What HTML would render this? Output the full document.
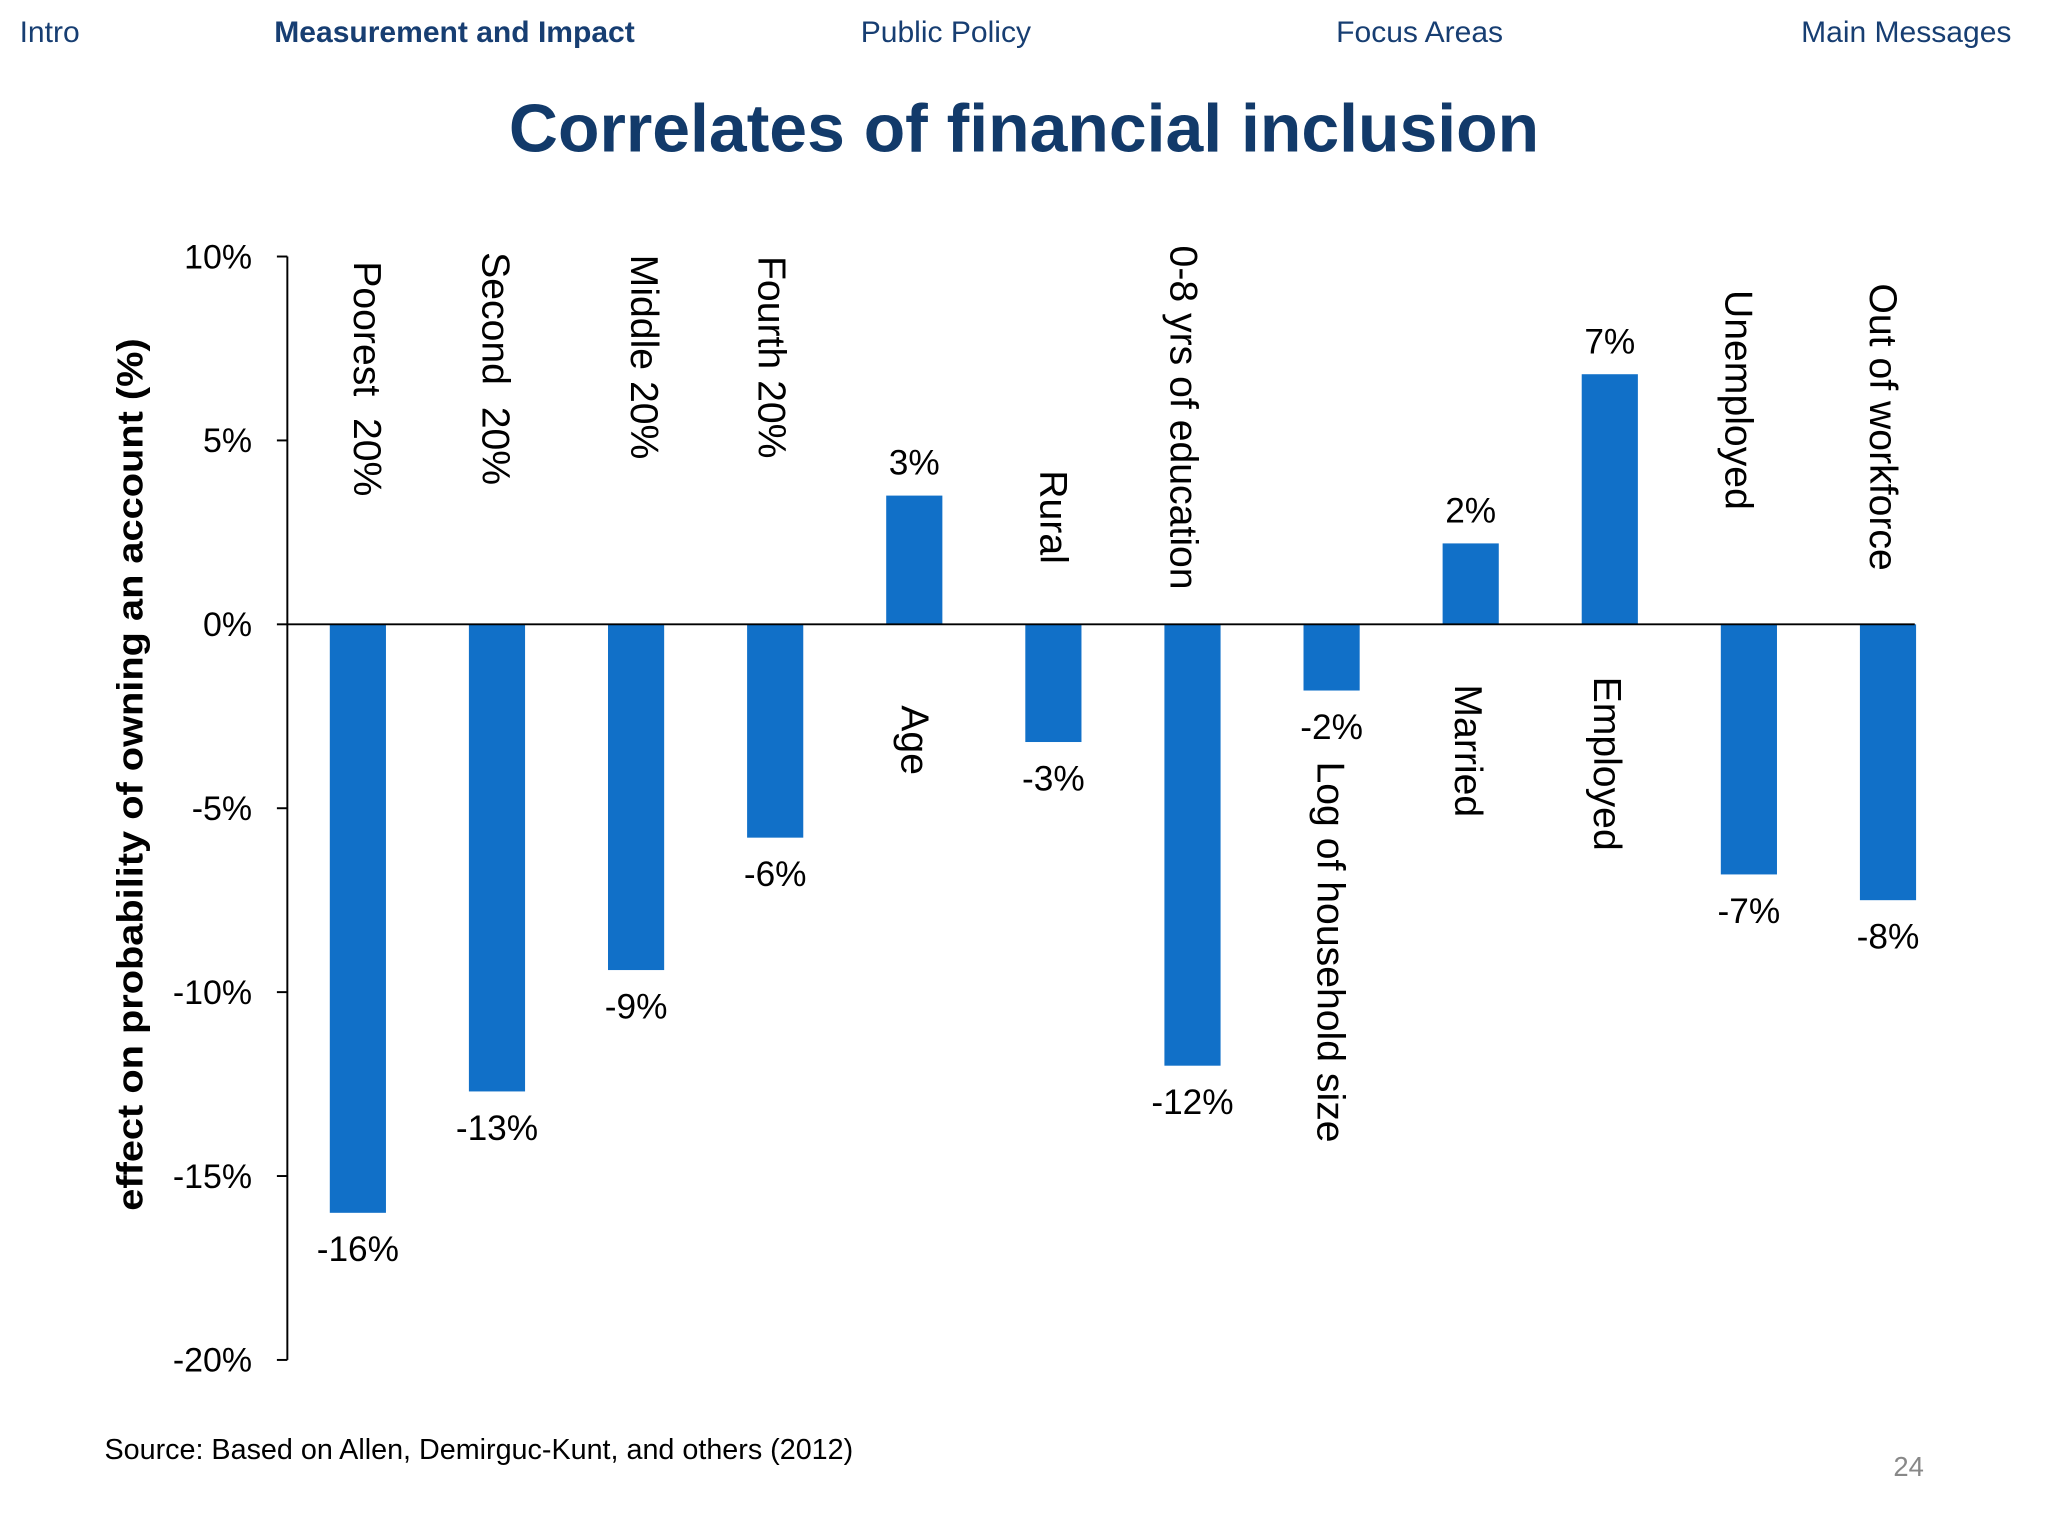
<!DOCTYPE html>
<html><head><meta charset="utf-8"><style>
html,body{margin:0;padding:0;background:#fff;}
svg{display:block;font-family:"Liberation Sans",Arial,sans-serif;}
</style></head><body>
<svg width="2048" height="1536" viewBox="0 0 1568 1176" xmlns="http://www.w3.org/2000/svg">
<rect x="0" y="0" width="1568" height="1176" fill="#ffffff"/>
<g font-size="23" fill="#173e72">
<text x="15" y="32">Intro</text>
<text x="210" y="32" font-weight="bold">Measurement and Impact</text>
<text x="659" y="32">Public Policy</text>
<text x="1023" y="32">Focus Areas</text>
<text x="1540" y="32" text-anchor="end">Main Messages</text>
</g>
<text x="784" y="116" text-anchor="middle" font-size="52" font-weight="bold" fill="#123a6a">Correlates of financial inclusion</text>
<g id="chart"></g>
<text x="109" y="593" transform="rotate(-90 109 593)" text-anchor="middle" font-size="28" font-weight="bold" fill="#000" textLength="668" lengthAdjust="spacingAndGlyphs">effect on probability of owning an account (%)</text>
<text x="80" y="1117" font-size="22" fill="#000">Source: Based on Allen, Demirguc-Kunt, and others (2012)</text>
<text x="1473" y="1130" text-anchor="end" font-size="21" fill="#888">24</text>
</svg>
<script>
const categories = ["Poorest  20%","Second  20%","Middle 20%","Fourth 20%","Age","Rural","0-8 yrs of education","Log of household size","Married","Employed","Unemployed","Out of workforce"];
const values = [-16, -12.7, -9.4, -5.8, 3.5, -3.2, -12, -1.8, 2.2, 6.8, -6.8, -7.5];
const valueLabels = ["-16%","-13%","-9%","-6%","3%","-3%","-12%","-2%","2%","7%","-7%","-8%"];
const yTicks = [10, 5, 0, -5, -10, -15, -20];
const yTickLabels = ["10%","5%","0%","-5%","-10%","-15%","-20%"];
const catLabelStart = [200,193,195,196,540,360,188,583,524,518,222,217];
const catLabelShift = [5,-3,4,-5,-2,-2,-9,-3,-4,-4,-10,-6];

const NS = "http://www.w3.org/2000/svg";
const g = document.getElementById("chart");
const y = v => 478 - v * 28.16;
const x = i => 274 + i * 106.5;
function mk(tag, attrs){const e=document.createElementNS(NS,tag);for(const k in attrs)e.setAttribute(k,attrs[k]);g.appendChild(e);return e;}

let ax = mk("line",{x1:220,y1:y(10),x2:220,y2:y(-20),stroke:"#000","stroke-width":1.5});


yTicks.forEach((t,i)=>{
  const tk = mk("line",{x1:212,y1:y(t),x2:220,y2:y(t),stroke:"#000","stroke-width":1.5});
  
  
  const tl = mk("text",{x:193,y:y(t)+9,"text-anchor":"end","font-size":26,fill:"#000"});
  tl.textContent = yTickLabels[i];
  
  
});
values.forEach((v,i)=>{
  const cx = x(i), w = 43;
  const b = mk("rect",{x:cx-w/2,y:Math.min(y(v),y(0)),width:w,height:Math.abs(y(v)-y(0)),fill:"#1170c8"});
  
  
  const vl = mk("text",{x:cx,y:v<0?y(v)+37:y(v)-16,"text-anchor":"middle","font-size":27,fill:"#000"});
  vl.textContent = valueLabels[i];
  
  
  const sy = catLabelStart[i];
  const lx = cx + catLabelShift[i];
  const cl = mk("text",{x:lx,y:sy,transform:"rotate(90 "+lx+" "+sy+")","font-size":30,fill:"#000","dominant-baseline":"middle",style:"white-space:pre"});
  cl.textContent = categories[i];
  
  
});
let zl = mk("line",{x1:220,y1:y(0),x2:1466,y2:y(0),stroke:"#000","stroke-width":1.5});


</script>
</body></html>
